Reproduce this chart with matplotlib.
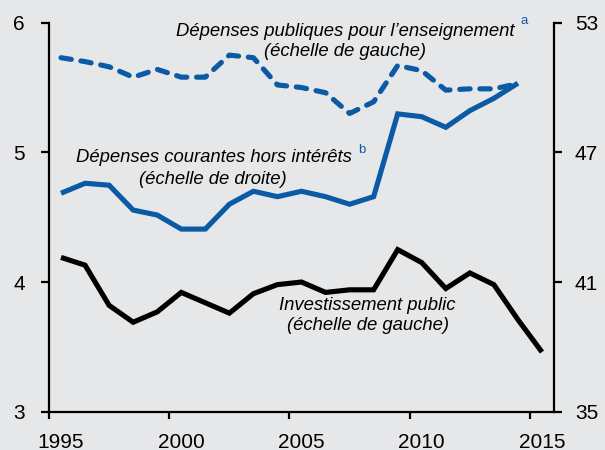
import matplotlib
matplotlib.use("Agg")
import matplotlib.pyplot as plt
import numpy as np

# ---- data ----
years = list(range(1995, 2016))
invest_public = [4.19, 4.13, 3.82, 3.69, 3.77, 3.92, 3.84, 3.76, 3.91, 3.98,
                 4.00, 3.92, 3.94, 3.94, 4.25, 4.15, 3.95, 4.07, 3.98, 3.71, 3.46]
educ_years = list(range(1995, 2015))
depenses_educ = [5.73, 5.70, 5.66, 5.58, 5.64, 5.58, 5.58, 5.75, 5.73, 5.52,
                 5.50, 5.46, 5.30, 5.39, 5.67, 5.63, 5.48, 5.49, 5.49, 5.53]
cour_years = list(range(1995, 2015))
depenses_courantes = [45.11, 45.57, 45.48, 44.33, 44.10, 43.45, 43.45, 44.60, 45.20, 44.95,
                      45.20, 44.95, 44.60, 44.95, 48.78, 48.65, 48.16, 48.93, 49.50, 50.20]
xtick_years = [1995, 2000, 2005, 2010, 2015]
left_ticks = [3, 4, 5, 6]
right_ticks = [35, 41, 47, 53]

bg = "#e6e7e9"
blue = "#0a5aa5"
W, H = 605, 450
plt.rcParams['font.family'] = ['Liberation Sans', 'DejaVu Sans']
plt.rcParams['lines.scale_dashes'] = False

fig = plt.figure(figsize=(W / 100, H / 100), dpi=100, facecolor=bg)
ax = fig.add_axes([49 / W, 1 - 411.7 / H, (554 - 49) / W, (411.7 - 22.7) / H])
ax.set_facecolor(bg)
ax2 = ax.twinx()
ax2.patch.set_visible(False)

mid = 0.5
ax.plot(np.array(educ_years) + mid, depenses_educ, color=blue, lw=3.7,
        dashes=(7.5, 7.0), dash_capstyle='round', solid_capstyle='round')
ax.plot(np.array(years) + mid, invest_public, color='black', lw=3.7,
        solid_joinstyle='miter', solid_capstyle='butt')
ax2.plot(np.array(cour_years) + mid, depenses_courantes, color=blue, lw=3.7,
         solid_joinstyle='miter', solid_capstyle='butt')

ax.set_xlim(1995, 2016)
ax.set_ylim(3, 6)
ax2.set_ylim(35, 53)

for s in ['top', 'right']:
    ax.spines[s].set_visible(False)
for s in ['top', 'left', 'bottom']:
    ax2.spines[s].set_visible(False)
for s in ['left', 'bottom']:
    ax.spines[s].set_linewidth(1.6)
ax2.spines['right'].set_linewidth(1.6)

ax.set_yticks(left_ticks)
ax.set_yticklabels([str(t) for t in left_ticks])
ax2.set_yticks(right_ticks)
ax2.set_yticklabels([str(t) for t in right_ticks])
ax.tick_params(axis='y', direction='out', length=5.5, width=1.6, labelsize=15, pad=12)
ax2.tick_params(axis='y', direction='out', length=5.5, width=1.6, labelsize=15, pad=9.5)

ax.set_xticks(xtick_years)
ax.set_xticklabels([])
ax.set_xticks([y + mid for y in xtick_years], minor=True)
ax.set_xticklabels([str(y) for y in xtick_years], minor=True)
ax.tick_params(axis='x', which='major', direction='out', length=5, width=1.6)
ax.tick_params(axis='x', which='minor', length=0, labelsize=15, pad=15)

def ftext(x, y, s, **kw):
    fig.text(x / W, 1 - y / H, s, **kw)

tk = dict(fontsize=13.3, style='italic', color='black', ha='center', va='center')
ftext(345, 31, "Dépenses publiques pour l’enseignement", **tk)
ftext(345, 52, "(échelle de gauche)", **tk)
ftext(524, 21, "a", fontsize=9.5, color=blue, ha='center', va='center')
ftext(214, 158, "Dépenses courantes hors intérêts", **tk)
ftext(213, 180, "(échelle de droite)", **tk)
ftext(362, 150, "b", fontsize=9.5, color=blue, ha='center', va='center')
ftext(367, 305, "Investissement public", **tk)
ftext(368, 326, "(échelle de gauche)", **tk)

fig.savefig("out.png", dpi=100, facecolor=bg)
